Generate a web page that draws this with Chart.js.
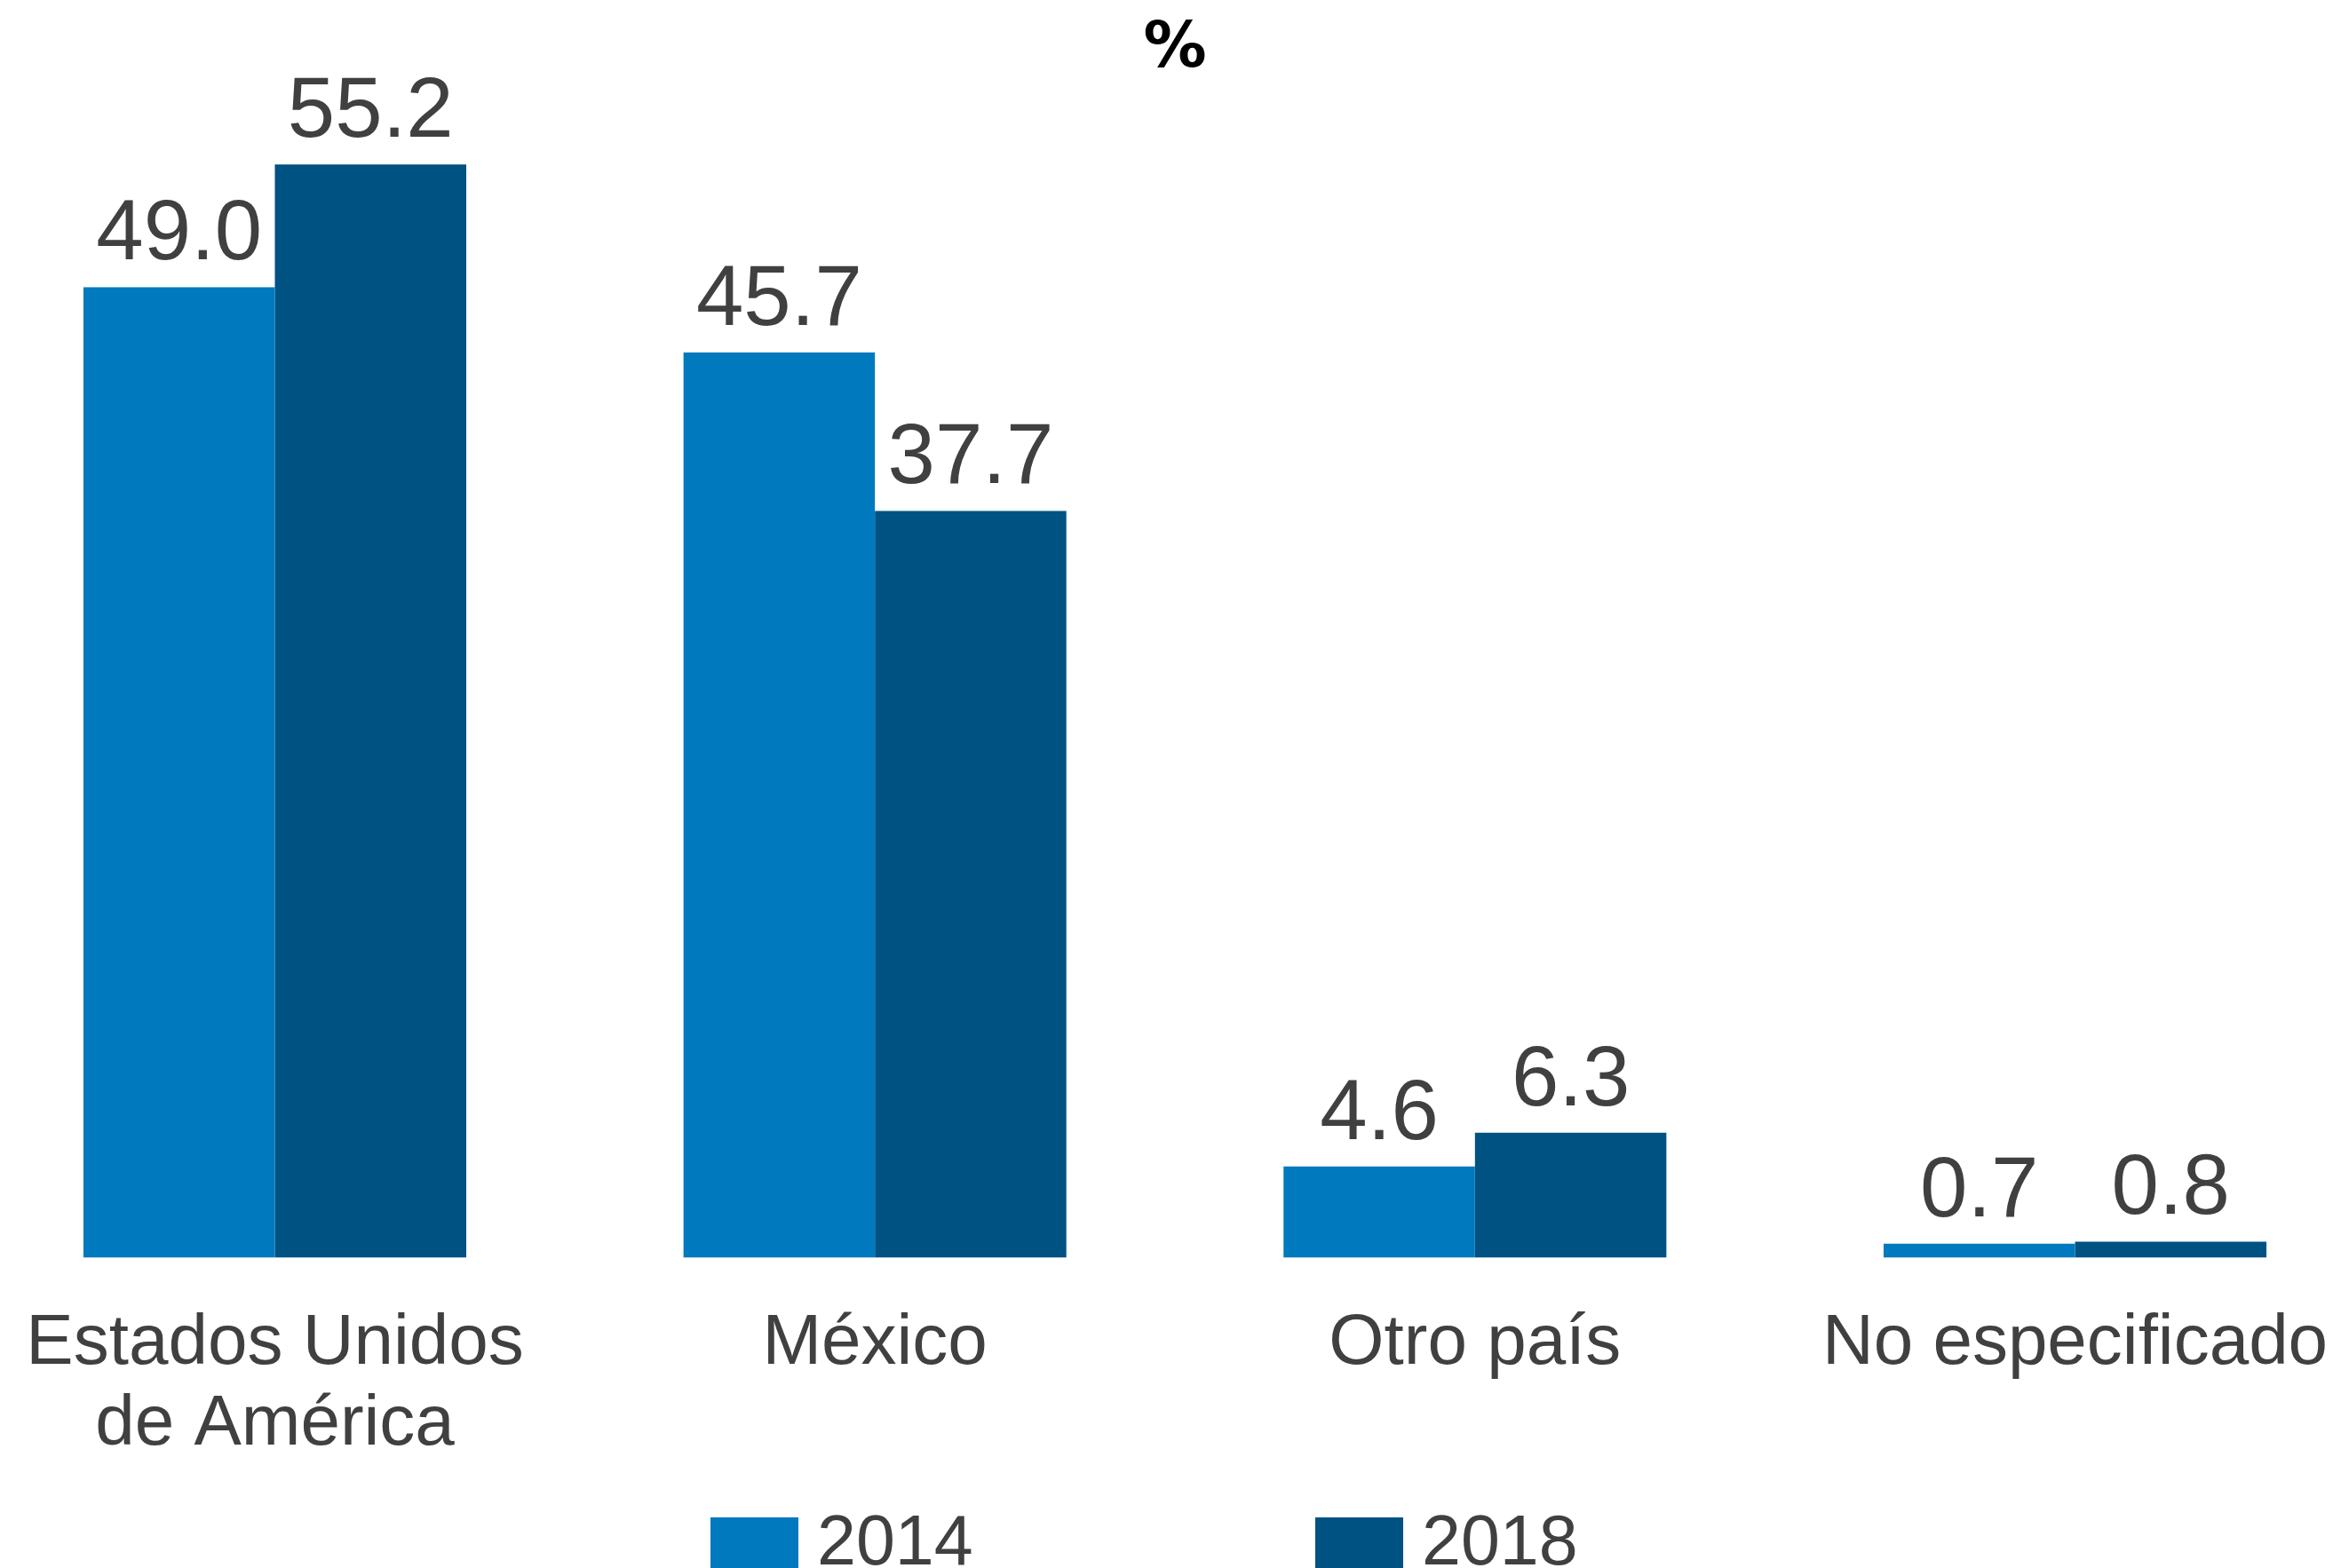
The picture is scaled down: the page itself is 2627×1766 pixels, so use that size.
<!DOCTYPE html>
<html>
<head>
<meta charset="utf-8">
<script src="https://cdn.jsdelivr.net/npm/chart.js@4.4.1/dist/chart.umd.min.js"></script>
<style>
  html, body { margin: 0; padding: 0; background: #fff; overflow: hidden; }
  #wrap { width: 2627px; height: 1766px; }
</style>
</head>
<body>
<div id="wrap"><canvas id="chart"></canvas></div>
<script>
const CATEGORIES = [["Estados Unidos", "de América"], "México", "Otro país", "No especificado"];
const YEARS = ["2014", "2018"];
const VALUES_2014 = [49.0, 45.7, 4.6, 0.7];
const VALUES_2018 = [55.2, 37.7, 6.3, 0.8];
const Y_MAX = 58;

const BLUE = "#0079be";
const NAVY = "#005282";
const INK = "#404040";
const FONT = "'Liberation Sans', Arial, sans-serif";

// value labels above each bar
const barValues = {
  id: "barValues",
  afterDatasetsDraw(chart) {
    const ctx = chart.ctx;
    ctx.save();
    ctx.font = "96px " + FONT;
    ctx.fillStyle = INK;
    ctx.textAlign = "center";
    ctx.textBaseline = "alphabetic";
    chart.data.datasets.forEach((ds, i) => {
      chart.getDatasetMeta(i).data.forEach((bar, j) => {
        ctx.fillText(ds.data[j].toFixed(1), bar.x, bar.y - 31);
      });
    });
    ctx.restore();
  },
};

// legend drawn by hand: wide gap between the two items, boxes run off the bottom edge
const bottomLegend = {
  id: "bottomLegend",
  afterDraw(chart) {
    const { ctx, chartArea } = chart;
    const cx = (chartArea.left + chartArea.right) / 2;
    const top = chart.height - 57;
    ctx.save();
    ctx.font = "79px " + FONT;
    ctx.textAlign = "left";
    ctx.textBaseline = "alphabetic";
    chart.data.datasets.forEach((ds, i) => {
      const x = cx - 523 + i * 681;
      ctx.fillStyle = ds.backgroundColor;
      ctx.fillRect(x, top, 99, 60);
      ctx.fillStyle = INK;
      ctx.fillText(ds.label, x + 120, chart.height - 4);
    });
    ctx.restore();
  },
};

const barOpts = { categoryPercentage: 0.638, barPercentage: 1, clip: false };

new Chart(document.getElementById("chart"), {
  type: "bar",
  data: {
    labels: CATEGORIES,
    datasets: [
      { label: YEARS[0], data: VALUES_2014, backgroundColor: BLUE, ...barOpts },
      { label: YEARS[1], data: VALUES_2018, backgroundColor: NAVY, ...barOpts },
    ],
  },
  options: {
    responsive: true, maintainAspectRatio: false, animation: false,
    layout: { padding: { left: 309.5, right: 290.5, top: 0, bottom: 115.3 } },
    plugins: {
      legend: { display: false },
      tooltip: { enabled: false },
      title: {
        display: true, text: "%", fullSize: false, color: "#000",
        font: { family: "'DejaVu Sans'", size: 71, weight: "bold", lineHeight: 1 },
        padding: { top: 21, bottom: 30.7 },
      },
    },
    scales: {
      x: {
        offset: false,
        // gap under the bars comes from the (hidden) tick length, not ticks.padding
        grid: { display: false, drawTicks: true, tickLength: 52 },
        border: { display: false },
        ticks: {
          color: INK, padding: 0, autoSkip: false, maxRotation: 0,
          font: { family: FONT, size: 80, lineHeight: 1.14 },
        },
      },
      y: { display: false, min: 0, max: Y_MAX },
    },
  },
  plugins: [barValues, bottomLegend],
});
</script>
</body>
</html>
